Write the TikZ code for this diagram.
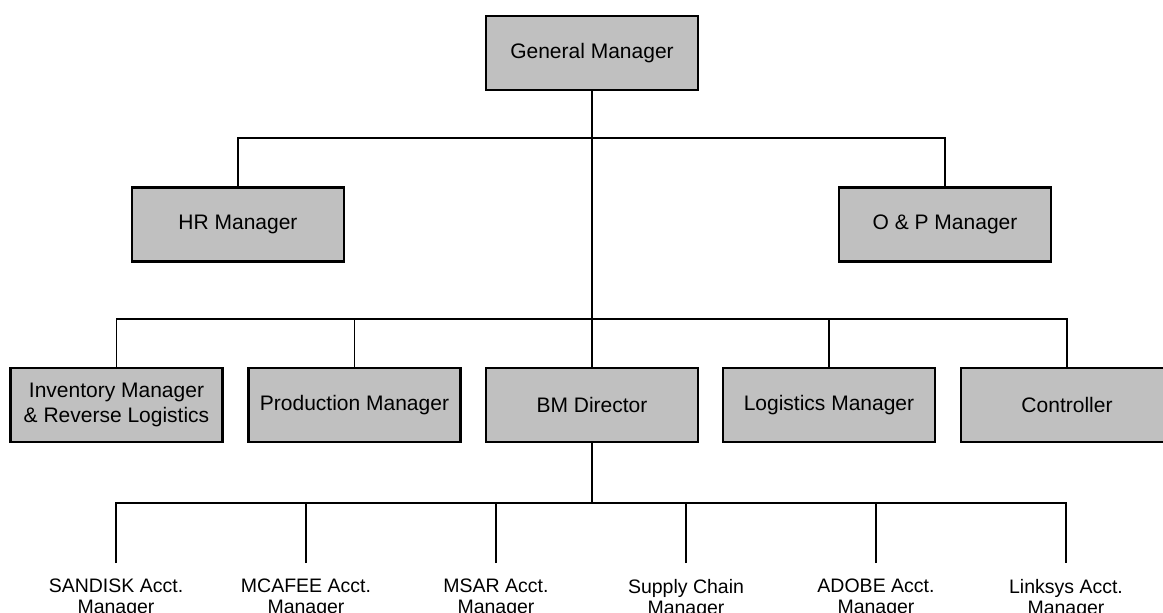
\documentclass[tikz,border=0pt]{standalone}
\usepackage{fontspec}
\setmainfont{Liberation Sans}
\begin{document}
\begin{tikzpicture}[x=1pt,y=-1pt,
  rolebox/.style={draw=black, line width=2.6pt, fill=boxgray, inner sep=0pt,
    minimum width=212pt, minimum height=74pt, align=center,
    font=\fontsize{21}{25}\selectfont},
  rolelabel/.style={anchor=north, inner xsep=0pt, inner ysep=16pt, align=center,
    font=\fontsize{19.5}{21}\selectfont},
  link/.style={draw=black, line width=1.9pt}]
\definecolor{boxgray}{HTML}{C0C0C0}
\useasboundingbox (0,0) rectangle (1163,613);
\clip (0,0) rectangle (1163,613);

% top levels
\node[rolebox] (gm) at (592,53) {General Manager};
\node[rolebox] (hr) at (238,224.5) {HR Manager};
\node[rolebox] (op) at (945,224.5) {O \& P Manager};

% department heads
\node[rolebox] (inv)  at (116.5,405) {Inventory Manager\\\& Reverse Logistics};
\node[rolebox] (prod) at (354.5,405) {Production Manager};
\node[rolebox] (bm)   at (592,405)   {BM Director};
\node[rolebox] (logi) at (829,405)   {Logistics Manager};
\node[rolebox] (ctrl) at (1067,405)  {Controller};

% account managers under the BM Director
\node[rolelabel] (sd) at (116,563)  {SANDISK Acct.\\Manager};
\node[rolelabel] (mc) at (306,563)  {MCAFEE Acct.\\Manager};
\node[rolelabel] (ms) at (496,563)  {MSAR Acct.\\Manager};
\node[rolelabel] (sc) at (686,563)  {Supply Chain\\Manager};
\node[rolelabel] (ad) at (876,563)  {ADOBE Acct.\\Manager};
\node[rolelabel] (lk) at (1066,563) {Linksys Acct.\\Manager};

% junctions on the trunk
\coordinate (jstaff) at (592,138);
\coordinate (jdept)  at (592,319);
\coordinate (jacct)  at (592,503);

% connectors
\draw[link] (gm.south) -- (bm.north);
\draw[link] (hr.north) |- (jstaff) -| (op.north);
\draw[link] (inv.north) |- (jdept) -| (ctrl.north);
\draw[link] (prod.north) |- (jdept);
\draw[link] (logi.north) |- (jdept);
\draw[link] (bm.south) -- (jacct);
\draw[link] (sd.north) |- (jacct) -| (lk.north);
\draw[link] (mc.north) |- (jacct);
\draw[link] (ms.north) |- (jacct);
\draw[link] (sc.north) |- (jacct);
\draw[link] (ad.north) |- (jacct);
\end{tikzpicture}
\end{document}
